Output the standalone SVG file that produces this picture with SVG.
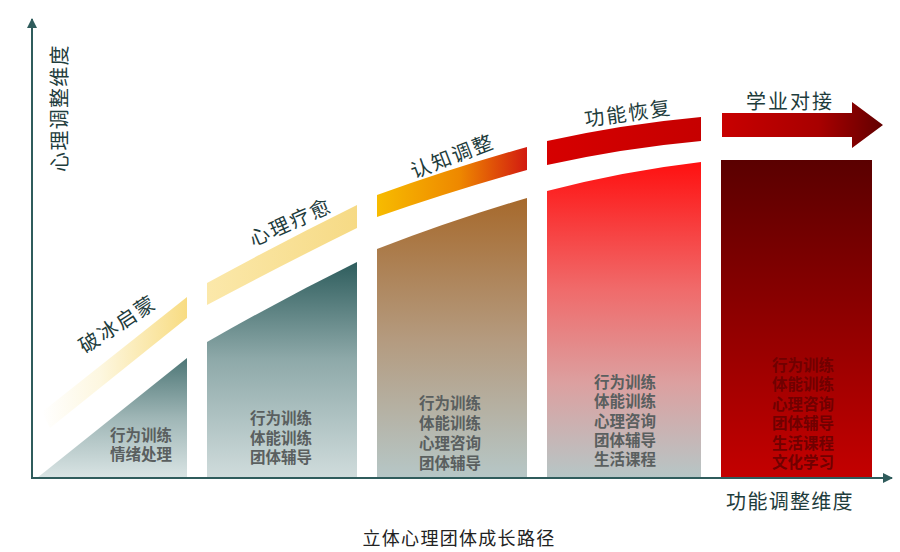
<svg xmlns="http://www.w3.org/2000/svg" width="900" height="552" viewBox="0 0 900 552">
<defs>
<style>
.lbl{font-family:"Noto Sans CJK SC","Noto Sans",sans-serif;fill:#1e3c3c;font-size:20px;letter-spacing:2px;text-anchor:middle;dominant-baseline:central}
.axl{font-family:"Noto Sans CJK SC","Noto Sans",sans-serif;fill:#1e3c3c;font-size:20px;letter-spacing:1.3px;text-anchor:middle;dominant-baseline:central}
.ct{font-family:"Liberation Sans","Noto Sans CJK SC",sans-serif;fill:#5a5f5f;font-size:15.5px;font-weight:bold;text-anchor:middle}
.ct5{fill:#700000}
.cap{font-family:"Noto Sans CJK SC","Noto Sans",sans-serif;fill:#222;font-size:18px;letter-spacing:1.3px;text-anchor:middle;dominant-baseline:central}
.axis{stroke:#2f5c5c;stroke-width:2;fill:none}
</style>
<linearGradient id="gc1" x1="0" y1="0" x2="0" y2="1"><stop offset="0" stop-color="#4d7676"/><stop offset="0.5" stop-color="#9fb6b6"/><stop offset="1" stop-color="#d9e4e4"/></linearGradient>
<linearGradient id="gc2" x1="0" y1="0" x2="0" y2="1"><stop offset="0" stop-color="#2e5d5d"/><stop offset="0.45" stop-color="#8ea9a9"/><stop offset="1" stop-color="#d0dcdc"/></linearGradient>
<linearGradient id="gc3" x1="0" y1="0" x2="0" y2="1"><stop offset="0" stop-color="#a6692c"/><stop offset="0.5" stop-color="#b49a7e"/><stop offset="1" stop-color="#b6c7c7"/></linearGradient>
<linearGradient id="gc4" x1="0" y1="0" x2="0" y2="1"><stop offset="0" stop-color="#ff1010"/><stop offset="0.4" stop-color="#f06a6a"/><stop offset="0.7" stop-color="#dca0a0"/><stop offset="1" stop-color="#b6c6c6"/></linearGradient>
<linearGradient id="gc5" x1="0" y1="0" x2="0" y2="1"><stop offset="0" stop-color="#5a0000"/><stop offset="1" stop-color="#c40000"/></linearGradient>
<linearGradient id="gb1" x1="0" y1="0" x2="1" y2="0"><stop offset="0" stop-color="#ffffff"/><stop offset="0.4" stop-color="#fdf7e0"/><stop offset="1" stop-color="#f8dc82"/></linearGradient>
<linearGradient id="gb2" x1="0" y1="0" x2="1" y2="0"><stop offset="0" stop-color="#fbe8aa"/><stop offset="1" stop-color="#f6da85"/></linearGradient>
<linearGradient id="gb3" x1="0" y1="0" x2="1" y2="0"><stop offset="0" stop-color="#f7bb00"/><stop offset="0.55" stop-color="#ee8800"/><stop offset="1" stop-color="#d21a10"/></linearGradient>
<linearGradient id="gb4" x1="0" y1="0" x2="1" y2="0"><stop offset="0" stop-color="#d60000"/><stop offset="1" stop-color="#c60000"/></linearGradient>
<linearGradient id="gb5" x1="0" y1="0" x2="1" y2="0"><stop offset="0" stop-color="#c80000"/><stop offset="0.6" stop-color="#a80000"/><stop offset="1" stop-color="#620000"/></linearGradient>
<marker id="ah" viewBox="0 0 10 10" refX="9" refY="5" markerWidth="5" markerHeight="5" orient="auto" markerUnits="strokeWidth"><path d="M0,0 L10,5 L0,10 Z" fill="#2f5c5c"/></marker>
</defs>
<rect width="900" height="552" fill="#ffffff"/>

<g id="stage1">
<path d="M50,428 L187,318 L187,297 L42,412 Z" fill="url(#gb1)"/>
<path d="M37,478 L187,358 L187,478 Z" fill="url(#gc1)"/>
<text class="lbl" transform="translate(117,323) rotate(-33)">破冰启蒙</text>
<text class="ct"><tspan x="141" y="441">行为训练</tspan><tspan x="141" y="460">情绪处理</tspan></text>
</g>

<g id="stage2">
<path d="M207,283 Q282,242 357,205 L357,228 Q282,265 207,305 Z" fill="url(#gb2)"/>
<path d="M207,342 Q282,299 357,262 L357,478 L207,478 Z" fill="url(#gc2)"/>
<text class="lbl" transform="translate(290,221) rotate(-24)">心理疗愈</text>
<text class="ct"><tspan x="281" y="424">行为训练</tspan><tspan x="281" y="444">体能训练</tspan><tspan x="281" y="463">团体辅导</tspan></text>
</g>

<g id="stage3">
<path d="M377,195 Q452,168 527,147 L527,170 Q452,191 377,217 Z" fill="url(#gb3)"/>
<path d="M377,249 Q452,220 527,198 L527,478 L377,478 Z" fill="url(#gc3)"/>
<text class="lbl" transform="translate(452,155) rotate(-21)">认知调整</text>
<text class="ct"><tspan x="450" y="409">行为训练</tspan><tspan x="450" y="429">体能训练</tspan><tspan x="450" y="449">心理咨询</tspan><tspan x="450" y="469">团体辅导</tspan></text>
</g>

<g id="stage4">
<path d="M547,141 Q624,124 701,117 L701,141 Q624,148 547,165 Z" fill="url(#gb4)"/>
<path d="M547,191 Q624,171 701,162 L701,478 L547,478 Z" fill="url(#gc4)"/>
<text class="lbl" transform="translate(628,112) rotate(-8)">功能恢复</text>
<text class="ct"><tspan x="625" y="388">行为训练</tspan><tspan x="625" y="407">体能训练</tspan><tspan x="625" y="427">心理咨询</tspan><tspan x="625" y="446">团体辅导</tspan><tspan x="625" y="465">生活课程</tspan></text>
</g>

<g id="stage5">
<path d="M722,113 L852,113 L852,102 L883,125 L852,148 L852,137 L722,137 Z" fill="url(#gb5)"/>
<rect x="721" y="160" width="151" height="318" fill="url(#gc5)"/>
<text class="lbl" x="790" y="100">学业对接</text>
<text class="ct ct5"><tspan x="803" y="371">行为训练</tspan><tspan x="803" y="390">体能训练</tspan><tspan x="803" y="410">心理咨询</tspan><tspan x="803" y="429">团体辅导</tspan><tspan x="803" y="449">生活课程</tspan><tspan x="803" y="468">文化学习</tspan></text>
</g>

<g id="connectors">
<path class="axis" d="M32,478 L32,19" marker-end="url(#ah)"/>
<path class="axis" d="M31,478 L892,478" marker-end="url(#ah)"/>
</g>

<g id="labels">
<text class="axl" transform="translate(58,108) rotate(-90)">心理调整维度</text>
<text class="axl" x="790" y="500">功能调整维度</text>
<text class="cap" x="459" y="537">立体心理团体成长路径</text>
</g>
</svg>
